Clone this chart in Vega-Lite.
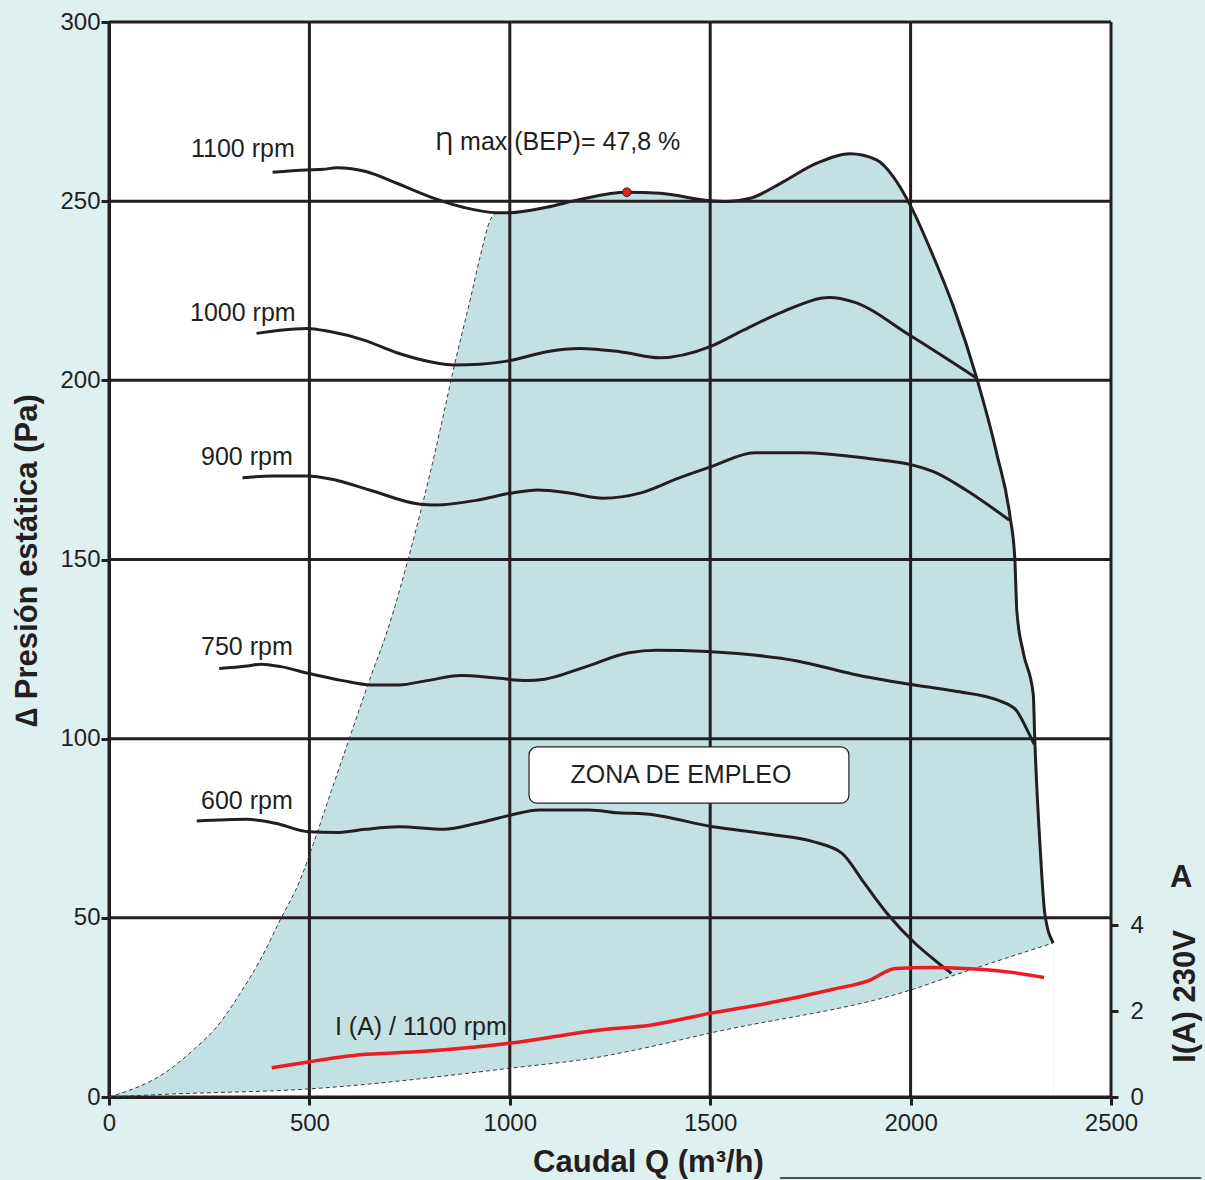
{
  "$schema": "https://vega.github.io/schema/vega-lite/v6.json",
  "width": 1002,
  "height": 1075,
  "autosize": {"type": "none"},
  "padding": {"left": 109, "top": 22, "right": 94, "bottom": 83},
  "background": "#dff0f0",
  "config": {
    "font": "Liberation Sans",
    "view": {"fill": "white", "stroke": null},
    "axis": {
      "grid": false,
      "ticks": true,
      "labelFont": "Liberation Sans",
      "labelFontSize": 24,
      "labelColor": "#231f20",
      "labelFlush": false,
      "labelOverlap": false,
      "titleFont": "Liberation Sans",
      "titleFontSize": 31,
      "titleFontWeight": "bold",
      "titleColor": "#231f20",
      "domainColor": "#231f20",
      "domainWidth": 3,
      "tickColor": "#231f20",
      "tickWidth": 3,
      "tickSize": 8
    },
    "text": {"font": "Liberation Sans", "fontSize": 25, "fill": "#231f20"}
  },
  "datasets": {
    "zoneTop": [
      {"q": 0, "p": 0}, {"q": 144, "p": 7.1}, {"q": 210, "p": 13.1}, {"q": 269, "p": 19.6},
      {"q": 327, "p": 28.9}, {"q": 377, "p": 38.2}, {"q": 427, "p": 49.4}, {"q": 477, "p": 60.6},
      {"q": 513, "p": 71.7}, {"q": 555, "p": 85.5}, {"q": 597, "p": 99.2}, {"q": 653, "p": 117.3},
      {"q": 695, "p": 130.3}, {"q": 759, "p": 155.4}, {"q": 799, "p": 173.1}, {"q": 826, "p": 186.1},
      {"q": 863, "p": 204.8}, {"q": 901, "p": 222.4}, {"q": 926, "p": 234.5}, {"q": 951, "p": 244.7},
      {"q": 967, "p": 246.8}, {"q": 1000, "p": 246.8}, {"q": 1092, "p": 248.3}, {"q": 1175, "p": 250.5},
      {"q": 1292, "p": 252.5}, {"q": 1375, "p": 252.2}, {"q": 1500, "p": 250.1}, {"q": 1541, "p": 249.9},
      {"q": 1600, "p": 250.8}, {"q": 1682, "p": 255.4}, {"q": 1766, "p": 260.6}, {"q": 1849, "p": 263.2},
      {"q": 1915, "p": 261.5}, {"q": 1957, "p": 256.8}, {"q": 1999, "p": 248.9}, {"q": 2057, "p": 234.5},
      {"q": 2107, "p": 220.5}, {"q": 2165, "p": 200.6}, {"q": 2215, "p": 179.5}, {"q": 2248, "p": 162.0},
      {"q": 2260, "p": 150.3}, {"q": 2265, "p": 135.7}, {"q": 2281, "p": 124.1}, {"q": 2306, "p": 112.4},
      {"q": 2310, "p": 99.2}, {"q": 2323, "p": 70.0}, {"q": 2335, "p": 51.1}, {"q": 2356, "p": 43.0}
    ],
    "zoneBot": [
      {"q": 0, "p": 0}, {"q": 139, "p": 0.75}, {"q": 492, "p": 2.2}, {"q": 998, "p": 8.0},
      {"q": 1225, "p": 11.2}, {"q": 1312, "p": 13.1}, {"q": 1502, "p": 17.9}, {"q": 2001, "p": 29.9},
      {"q": 2109, "p": 34.0}, {"q": 2356, "p": 43.0}
    ],
    "dash": [
      {"part": "left", "q": 0, "p": 0}, {"part": "left", "q": 144, "p": 7.1}, {"part": "left", "q": 210, "p": 13.1},
      {"part": "left", "q": 269, "p": 19.6}, {"part": "left", "q": 327, "p": 28.9}, {"part": "left", "q": 377, "p": 38.2},
      {"part": "left", "q": 427, "p": 49.4}, {"part": "left", "q": 477, "p": 60.6}, {"part": "left", "q": 513, "p": 71.7},
      {"part": "left", "q": 555, "p": 85.5}, {"part": "left", "q": 597, "p": 99.2}, {"part": "left", "q": 653, "p": 117.3},
      {"part": "left", "q": 695, "p": 130.3}, {"part": "left", "q": 759, "p": 155.4}, {"part": "left", "q": 799, "p": 173.1},
      {"part": "left", "q": 826, "p": 186.1}, {"part": "left", "q": 863, "p": 204.8}, {"part": "left", "q": 901, "p": 222.4},
      {"part": "left", "q": 926, "p": 234.5}, {"part": "left", "q": 951, "p": 244.7}, {"part": "left", "q": 967, "p": 246.8},
      {"part": "bottom", "q": 0, "p": 0}, {"part": "bottom", "q": 139, "p": 0.75}, {"part": "bottom", "q": 492, "p": 2.2},
      {"part": "bottom", "q": 998, "p": 8.0}, {"part": "bottom", "q": 1225, "p": 11.2}, {"part": "bottom", "q": 1312, "p": 13.1},
      {"part": "bottom", "q": 1502, "p": 17.9}, {"part": "bottom", "q": 2001, "p": 29.9}, {"part": "bottom", "q": 2109, "p": 34.0},
      {"part": "bottom", "q": 2356, "p": 43.0}
    ],
    "grid": [
      {"q": 0, "q2": 0, "p": 0, "p2": 300}, {"q": 500, "q2": 500, "p": 0, "p2": 300},
      {"q": 1000, "q2": 1000, "p": 0, "p2": 300}, {"q": 1500, "q2": 1500, "p": 0, "p2": 300},
      {"q": 2000, "q2": 2000, "p": 0, "p2": 300}, {"q": 2500, "q2": 2500, "p": 0, "p2": 300},
      {"q": 0, "q2": 2500, "p": 0, "p2": 0}, {"q": 0, "q2": 2500, "p": 50, "p2": 50},
      {"q": 0, "q2": 2500, "p": 100, "p2": 100}, {"q": 0, "q2": 2500, "p": 150, "p2": 150},
      {"q": 0, "q2": 2500, "p": 200, "p2": 200}, {"q": 0, "q2": 2500, "p": 250, "p2": 250},
      {"q": 0, "q2": 2500, "p": 300, "p2": 300}
    ],
    "curves": [
      {"rpm": 1100, "q": 408, "p": 258.1}, {"rpm": 1100, "q": 493, "p": 258.7}, {"rpm": 1100, "q": 535, "p": 258.9},
      {"rpm": 1100, "q": 568, "p": 259.3}, {"rpm": 1100, "q": 643, "p": 258.2}, {"rpm": 1100, "q": 718, "p": 255.0},
      {"rpm": 1100, "q": 801, "p": 251.2}, {"rpm": 1100, "q": 884, "p": 248.3}, {"rpm": 1100, "q": 967, "p": 246.8},
      {"rpm": 1100, "q": 1000, "p": 246.8}, {"rpm": 1100, "q": 1092, "p": 248.3}, {"rpm": 1100, "q": 1175, "p": 250.5},
      {"rpm": 1100, "q": 1292, "p": 252.5}, {"rpm": 1100, "q": 1375, "p": 252.2}, {"rpm": 1100, "q": 1500, "p": 250.1},
      {"rpm": 1100, "q": 1541, "p": 249.9}, {"rpm": 1100, "q": 1600, "p": 250.8}, {"rpm": 1100, "q": 1682, "p": 255.4},
      {"rpm": 1100, "q": 1766, "p": 260.6}, {"rpm": 1100, "q": 1849, "p": 263.2}, {"rpm": 1100, "q": 1915, "p": 261.5},
      {"rpm": 1100, "q": 1957, "p": 256.8}, {"rpm": 1100, "q": 1999, "p": 248.9}, {"rpm": 1100, "q": 2057, "p": 234.5},
      {"rpm": 1100, "q": 2107, "p": 220.5}, {"rpm": 1100, "q": 2165, "p": 200.6}, {"rpm": 1100, "q": 2215, "p": 179.5},
      {"rpm": 1100, "q": 2248, "p": 162.0}, {"rpm": 1100, "q": 2260, "p": 150.3}, {"rpm": 1100, "q": 2265, "p": 135.7},
      {"rpm": 1100, "q": 2281, "p": 124.1}, {"rpm": 1100, "q": 2306, "p": 112.4}, {"rpm": 1100, "q": 2310, "p": 99.2},
      {"rpm": 1100, "q": 2323, "p": 70.0}, {"rpm": 1100, "q": 2335, "p": 51.1}, {"rpm": 1100, "q": 2356, "p": 43.0},
      {"rpm": 1000, "q": 368, "p": 213.1}, {"rpm": 1000, "q": 427, "p": 214.0}, {"rpm": 1000, "q": 493, "p": 214.5},
      {"rpm": 1000, "q": 551, "p": 213.6}, {"rpm": 1000, "q": 634, "p": 211.3}, {"rpm": 1000, "q": 718, "p": 207.7},
      {"rpm": 1000, "q": 801, "p": 205.2}, {"rpm": 1000, "q": 859, "p": 204.3}, {"rpm": 1000, "q": 926, "p": 204.5},
      {"rpm": 1000, "q": 1000, "p": 205.5}, {"rpm": 1000, "q": 1092, "p": 208.0}, {"rpm": 1000, "q": 1175, "p": 208.9},
      {"rpm": 1000, "q": 1275, "p": 208.0}, {"rpm": 1000, "q": 1375, "p": 206.3}, {"rpm": 1000, "q": 1500, "p": 209.4},
      {"rpm": 1000, "q": 1583, "p": 214.0}, {"rpm": 1000, "q": 1682, "p": 219.2}, {"rpm": 1000, "q": 1798, "p": 223.1},
      {"rpm": 1000, "q": 1857, "p": 221.9}, {"rpm": 1000, "q": 1999, "p": 212.5}, {"rpm": 1000, "q": 2165, "p": 200.6},
      {"rpm": 900, "q": 333, "p": 172.8}, {"rpm": 900, "q": 407, "p": 173.3}, {"rpm": 900, "q": 495, "p": 173.3},
      {"rpm": 900, "q": 556, "p": 172.4}, {"rpm": 900, "q": 650, "p": 169.4}, {"rpm": 900, "q": 772, "p": 165.5},
      {"rpm": 900, "q": 813, "p": 165.2}, {"rpm": 900, "q": 921, "p": 166.6}, {"rpm": 900, "q": 1002, "p": 168.5},
      {"rpm": 900, "q": 1070, "p": 169.4}, {"rpm": 900, "q": 1151, "p": 168.5}, {"rpm": 900, "q": 1232, "p": 167.1},
      {"rpm": 900, "q": 1327, "p": 168.6}, {"rpm": 900, "q": 1421, "p": 172.7}, {"rpm": 900, "q": 1503, "p": 175.9},
      {"rpm": 900, "q": 1611, "p": 179.8}, {"rpm": 900, "q": 1732, "p": 179.8}, {"rpm": 900, "q": 1894, "p": 178.2},
      {"rpm": 900, "q": 2003, "p": 176.4}, {"rpm": 900, "q": 2057, "p": 174.5}, {"rpm": 900, "q": 2138, "p": 169.4},
      {"rpm": 900, "q": 2246, "p": 161.0},
      {"rpm": 750, "q": 275, "p": 119.6}, {"rpm": 750, "q": 345, "p": 120.3}, {"rpm": 750, "q": 380, "p": 120.8},
      {"rpm": 750, "q": 429, "p": 120.1}, {"rpm": 750, "q": 499, "p": 118.2}, {"rpm": 750, "q": 583, "p": 116.2},
      {"rpm": 750, "q": 653, "p": 115.0}, {"rpm": 750, "q": 723, "p": 115.0}, {"rpm": 750, "q": 793, "p": 116.2},
      {"rpm": 750, "q": 877, "p": 117.6}, {"rpm": 750, "q": 961, "p": 117.0}, {"rpm": 750, "q": 1045, "p": 116.2},
      {"rpm": 750, "q": 1087, "p": 116.6}, {"rpm": 750, "q": 1185, "p": 119.9}, {"rpm": 750, "q": 1297, "p": 124.0},
      {"rpm": 750, "q": 1367, "p": 124.7}, {"rpm": 750, "q": 1493, "p": 124.3}, {"rpm": 750, "q": 1717, "p": 121.7},
      {"rpm": 750, "q": 1857, "p": 118.0}, {"rpm": 750, "q": 1997, "p": 115.2}, {"rpm": 750, "q": 2109, "p": 113.3},
      {"rpm": 750, "q": 2221, "p": 110.6}, {"rpm": 750, "q": 2263, "p": 108.0}, {"rpm": 750, "q": 2291, "p": 102.4},
      {"rpm": 750, "q": 2308, "p": 98.5},
      {"rpm": 600, "q": 219, "p": 77.0}, {"rpm": 600, "q": 345, "p": 77.5}, {"rpm": 600, "q": 415, "p": 76.4},
      {"rpm": 600, "q": 499, "p": 74.0}, {"rpm": 600, "q": 569, "p": 73.8}, {"rpm": 600, "q": 639, "p": 74.7},
      {"rpm": 600, "q": 723, "p": 75.4}, {"rpm": 600, "q": 835, "p": 74.7}, {"rpm": 600, "q": 919, "p": 76.4},
      {"rpm": 600, "q": 1003, "p": 78.7}, {"rpm": 600, "q": 1073, "p": 80.1}, {"rpm": 600, "q": 1199, "p": 80.1},
      {"rpm": 600, "q": 1269, "p": 79.3}, {"rpm": 600, "q": 1339, "p": 79.0}, {"rpm": 600, "q": 1507, "p": 75.4},
      {"rpm": 600, "q": 1647, "p": 73.3}, {"rpm": 600, "q": 1759, "p": 71.2}, {"rpm": 600, "q": 1829, "p": 68.0},
      {"rpm": 600, "q": 1885, "p": 59.6}, {"rpm": 600, "q": 1941, "p": 51.3}, {"rpm": 600, "q": 2011, "p": 42.9},
      {"rpm": 600, "q": 2060, "p": 38.2}, {"rpm": 600, "q": 2102, "p": 34.5}
    ],
    "current": [
      {"q": 406, "a": 0.68}, {"q": 493, "a": 0.81}, {"q": 626, "a": 0.98}, {"q": 768, "a": 1.05},
      {"q": 1000, "a": 1.25}, {"q": 1225, "a": 1.56}, {"q": 1350, "a": 1.67}, {"q": 1502, "a": 1.95},
      {"q": 1649, "a": 2.19}, {"q": 1799, "a": 2.49}, {"q": 1899, "a": 2.72}, {"q": 1962, "a": 2.99},
      {"q": 2048, "a": 3.01}, {"q": 2137, "a": 2.99}, {"q": 2223, "a": 2.93}, {"q": 2333, "a": 2.78}
    ],
    "labels": [
      {"q": 334, "p": 264.6, "label": "1100 rpm"},
      {"q": 334, "p": 218.8, "label": "1000 rpm"},
      {"q": 344, "p": 178.6, "label": "900 rpm"},
      {"q": 344, "p": 125.6, "label": "750 rpm"},
      {"q": 344, "p": 82.6, "label": "600 rpm"},
      {"q": 1120, "p": 266.5, "label": "Ƞ max (BEP)= 47,8 %"},
      {"q": 778, "p": 19.5, "label": "I (A) / 1100 rpm"},
      {"q": 1427, "p": 89.9, "label": "ZONA DE EMPLEO"}
    ]
  },
  "encoding": {
    "x": {
      "field": "q", "type": "quantitative",
      "scale": {"domain": [0, 2500], "nice": false, "zero": true},
      "axis": {
        "values": [0, 500, 1000, 1500, 2000, 2500],
        "format": "d",
        "ticks": true,
        "title": "Caudal Q (m³/h)",
        "labelPadding": 6,
        "titleX": 539, "titleY": 65, "titleAlign": "center", "titleBaseline": "middle", "titleAnchor": null
      }
    }
  },
  "layer": [
    {
      "encoding": {
        "y": {
          "field": "p", "type": "quantitative",
          "scale": {"domain": [0, 300], "nice": false, "zero": true},
          "axis": {
            "orient": "left",
            "values": [0, 50, 100, 150, 200, 250, 300],
            "format": "d",
            "ticks": true,
            "title": "∆ Presión estática (Pa)",
            "labelPadding": 1,
            "titleX": -82, "titleY": 538, "titleAngle": 270, "titleAlign": "center", "titleBaseline": "middle"
          }
        }
      },
      "layer": [
        {"data": {"name": "zoneTop"}, "mark": {"type": "area", "fill": "#c3e1e2", "interpolate": "monotone"}},
        {"data": {"name": "zoneBot"}, "mark": {"type": "area", "fill": "white", "interpolate": "monotone"}},
        {
          "data": {"name": "grid"},
          "mark": {"type": "rule", "stroke": "#231f20", "strokeWidth": 3},
          "encoding": {"x2": {"field": "q2"}, "y2": {"field": "p2"}}
        },
        {
          "data": {"values": [{"q": 1674, "q2": 2725, "p": -22.6, "p2": -22.6}]},
          "mark": {"type": "rule", "stroke": "#231f20", "strokeWidth": 1.5},
          "encoding": {"x2": {"field": "q2"}, "y2": {"field": "p2"}}
        },
        {
          "data": {"name": "dash"},
          "mark": {"type": "line", "stroke": "#3a3a3a", "strokeWidth": 1, "strokeDash": [4, 3], "interpolate": "monotone"},
          "encoding": {"detail": {"field": "part"}}
        },
        {
          "data": {"name": "curves"},
          "mark": {"type": "line", "stroke": "#231f20", "strokeWidth": 3, "interpolate": "monotone"},
          "encoding": {"detail": {"field": "rpm"}}
        },
        {
          "data": {"values": [{"q": 1292, "p": 252.5}]},
          "mark": {"type": "point", "filled": true, "fill": "#ed1c24", "stroke": "#231f20", "strokeWidth": 1, "size": 75, "opacity": 1}
        },
        {
          "data": {"values": [{"q": 1048, "q2": 1846, "p": 82.0, "p2": 97.7}]},
          "mark": {"type": "rect", "fill": "white", "stroke": "#231f20", "strokeWidth": 1.2, "cornerRadius": 8},
          "encoding": {"x2": {"field": "q2"}, "y2": {"field": "p2"}}
        },
        {
          "data": {"name": "labels"},
          "mark": {"type": "text", "align": "center", "baseline": "middle"},
          "encoding": {"text": {"field": "label"}}
        }
      ]
    },
    {
      "layer": [
        {
          "data": {"name": "current"},
          "mark": {"type": "line", "stroke": "#ed1c24", "strokeWidth": 3.5, "interpolate": "monotone"},
          "encoding": {
            "y": {
              "field": "a", "type": "quantitative",
              "scale": {"domain": [0, 25], "nice": false, "zero": true},
              "axis": {
                "orient": "right",
                "values": [0, 2, 4],
                "domain": false,
                "ticks": true,
                "tickSize": 7,
                "labelPadding": 12,
                "title": "I(A) 230V",
                "titleX": 74, "titleY": 974, "titleAngle": 270, "titleAlign": "center", "titleBaseline": "middle"
              }
            }
          }
        },
        {
          "data": {"values": [{"q": 2675, "a": 5.09, "label": "A"}]},
          "mark": {"type": "text", "align": "center", "baseline": "middle", "fontWeight": "bold", "fontSize": 31},
          "encoding": {"y": {"field": "a", "type": "quantitative"}, "text": {"field": "label"}}
        }
      ]
    }
  ],
  "resolve": {"scale": {"y": "independent"}}
}
